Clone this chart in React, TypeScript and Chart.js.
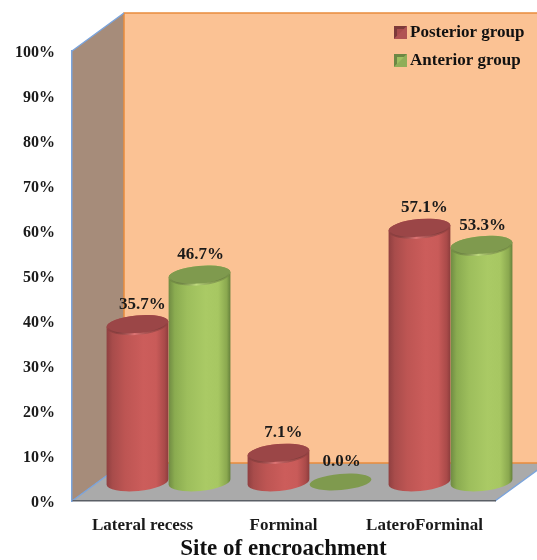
import { useEffect, useRef } from "react";
import { Chart, BarController, BarElement, CategoryScale, LinearScale, Legend, Title } from "chart.js";

const categories = ["Lateral recess", "Forminal", "LateroForminal"];
const posteriorGroup = [35.7, 7.1, 57.1];
const anteriorGroup = [46.7, 0.0, 53.3];
const valueTicks = [0, 10, 20, 30, 40, 50, 60, 70, 80, 90, 100];
const axisTitle = "Site of encroachment";

const SERIF = '"Liberation Serif", serif';
const DEPTH_X = 52;
const DEPTH_Y = 38;
const TILT = -0.09;
const CAP_RY = 9;
const LABEL_SHIFT_X = [4, 0];

const RED = "#c55a58";
const GREEN = "#a5c661";

const SHADES: Record<string, any> = {
  [RED]: {
    stops: ["#8f3f40", "#a84c4b", "#bd5553", "#cc5d5b", "#c95b59", "#a94a49", "#8b3c3c"],
    cap: "#9b4647",
    rim: "rgba(226,120,120,0.9)",
  },
  [GREEN]: {
    stops: ["#6f8a42", "#8aab50", "#9dbe5c", "#aaca65", "#a7c762", "#8aa84f", "#64803a"],
    cap: "#7f9a4e",
    rim: "rgba(195,222,130,0.9)",
  },
};

// Bar element that renders as an upright cylinder standing mid-way across the floor.
class CylinderElement extends BarElement {
  static id = "cylinder";

  draw(ctx: CanvasRenderingContext2D) {
    const { x, y, base, width } = (this as any).getProps(["x", "y", "base", "width"]);
    const shade = SHADES[(this as any).options.backgroundColor];
    const cx = x + DEPTH_X / 2;
    const bottom = base - DEPTH_Y / 2;
    const standing = base - y > 1;
    const top = standing ? y - DEPTH_Y / 2 + 3 : bottom;
    const rx = width / 2;

    ctx.save();
    if (standing) {
      const body = ctx.createLinearGradient(cx - rx, 0, cx + rx, 0);
      const offsets = [0, 0.1, 0.3, 0.6, 0.8, 0.94, 1];
      offsets.forEach((o, i) => body.addColorStop(o, shade.stops[i]));
      ctx.fillStyle = body;
      ctx.beginPath();
      ctx.ellipse(cx, bottom, rx, CAP_RY, TILT, Math.PI, 0, true);
      ctx.ellipse(cx, top, rx, CAP_RY, TILT, 0, Math.PI, true);
      ctx.closePath();
      ctx.fill();
    }

    ctx.fillStyle = shade.cap;
    ctx.beginPath();
    ctx.ellipse(cx, top, rx, standing ? CAP_RY : CAP_RY - 1, TILT, 0, Math.PI * 2);
    ctx.fill();

    if (standing) {
      const rim = ctx.createLinearGradient(cx - rx, 0, cx + rx, 0);
      rim.addColorStop(0, "rgba(0,0,0,0)");
      rim.addColorStop(0.45, shade.rim);
      rim.addColorStop(1, "rgba(0,0,0,0)");
      ctx.strokeStyle = rim;
      ctx.lineWidth = 2;
      ctx.beginPath();
      ctx.ellipse(cx, top + 0.5, rx - 1, CAP_RY, TILT, 0.1, Math.PI - 0.1);
      ctx.stroke();
    }
    ctx.restore();
  }
}

class CylinderController extends BarController {
  static id = "cylinder";
  static defaults = { ...BarController.defaults, dataElementType: "cylinder" };
  static overrides = BarController.overrides;
}

Chart.register(CylinderController, CylinderElement, CategoryScale, LinearScale, Legend, Title);

function bevelSwatch(light: string, mid: string, dark: string) {
  const c = document.createElement("canvas");
  c.width = 13;
  c.height = 13;
  const g = c.getContext("2d")!;
  g.fillStyle = mid;
  g.fillRect(0, 0, 13, 13);
  g.fillStyle = dark;
  g.beginPath();
  g.moveTo(0, 0);
  g.lineTo(13, 0);
  g.lineTo(6.5, 6.5);
  g.lineTo(0, 13);
  g.closePath();
  g.fill();
  g.fillStyle = light;
  g.fillRect(3, 3, 7, 7);
  g.fillStyle = mid;
  g.beginPath();
  g.moveTo(13, 0);
  g.lineTo(13, 13);
  g.lineTo(0, 13);
  g.closePath();
  g.fill();
  return c;
}

// Side wall, back wall and floor, placed from the value and category scales.
const roomPlugin = {
  id: "room",
  beforeDraw(chart: any) {
    const { ctx, scales } = chart;
    const xs = scales.x;
    const ys = scales.y;
    const left = xs.left;
    const right = xs.right;
    const top = ys.getPixelForValue(100);
    const floor = ys.getPixelForValue(0);
    const backL = left + DEPTH_X;
    const backR = right + DEPTH_X;
    const backTop = top - DEPTH_Y;
    const backFloor = floor - DEPTH_Y;

    ctx.save();
    ctx.fillStyle = "#fbc294";
    ctx.fillRect(backL, backTop, backR - backL, backFloor - backTop);

    ctx.fillStyle = "#a68c7a";
    ctx.beginPath();
    ctx.moveTo(left, top);
    ctx.lineTo(backL, backTop);
    ctx.lineTo(backL, backFloor);
    ctx.lineTo(left, floor);
    ctx.closePath();
    ctx.fill();

    ctx.fillStyle = "#aaaaaa";
    ctx.beginPath();
    ctx.moveTo(left, floor);
    ctx.lineTo(backL, backFloor);
    ctx.lineTo(backR, backFloor);
    ctx.lineTo(right, floor);
    ctx.closePath();
    ctx.fill();

    ctx.lineWidth = 1.5;
    ctx.strokeStyle = "#e98c3c";
    ctx.beginPath();
    ctx.moveTo(backL, backFloor);
    ctx.lineTo(backL, backTop);
    ctx.lineTo(backR, backTop);
    ctx.moveTo(backL, backFloor);
    ctx.lineTo(backR, backFloor);
    ctx.stroke();

    ctx.strokeStyle = "#7ba4dc";
    ctx.beginPath();
    ctx.moveTo(left, top);
    ctx.lineTo(backL, backTop);
    ctx.moveTo(left, floor);
    ctx.lineTo(backL, backFloor);
    ctx.moveTo(right, floor);
    ctx.lineTo(backR, backFloor);
    ctx.stroke();
    ctx.restore();
  },
  afterLayout(chart: any) {
    // The legend sits high in the back wall, above the 100% level.
    const legend = chart.legend;
    const w = legend.right - legend.left;
    const h = legend.bottom - legend.top;
    legend.left = 388.5;
    legend.right = 388.5 + w;
    legend.top = 13;
    legend.bottom = 13 + h;
  },
};

// Percentage text above each cylinder cap.
const valueLabelPlugin = {
  id: "valueLabels",
  afterDatasetsDraw(chart: any) {
    const { ctx } = chart;
    ctx.save();
    ctx.font = `bold 17px ${SERIF}`;
    ctx.fillStyle = "#1a1a1a";
    ctx.textAlign = "center";
    ctx.textBaseline = "middle";
    chart.data.datasets.forEach((ds: any, di: number) => {
      chart.getDatasetMeta(di).data.forEach((bar: any, i: number) => {
        const text = `${ds.data[i].toFixed(1)}%`;
        const lift = ds.data[i] > 0 ? 17 : 20;
        ctx.fillText(text, bar.x + DEPTH_X / 2 + 1 + LABEL_SHIFT_X[di], bar.y - DEPTH_Y / 2 - lift);
      });
    });
    ctx.restore();
  },
};

export default function App() {
  const ref = useRef<HTMLCanvasElement>(null);

  useEffect(() => {
    const swatches = [
      bevelSwatch("#a84c4c", "#b05353", "#7d3a3a"),
      bevelSwatch("#9fc060", "#8fae58", "#6c8844"),
    ];
    const chart = new Chart(ref.current!, {
      type: "cylinder" as any,
      data: {
        labels: categories,
        datasets: [
          { label: "Posterior group", data: posteriorGroup, backgroundColor: RED, clip: false },
          { label: "Anterior group", data: anteriorGroup, backgroundColor: GREEN, clip: false },
        ],
      },
      plugins: [roomPlugin, valueLabelPlugin],
      options: {
        responsive: false,
        animation: false,
        layout: { padding: { top: 51, right: 42, left: 0, bottom: 0 } },
        datasets: { cylinder: { categoryPercentage: 0.88, barPercentage: 1 } } as any,
        plugins: {
          title: { display: false },
          tooltip: { enabled: false },
          legend: {
            position: "chartArea" as any,
            align: "start",
            labels: {
              usePointStyle: true,
              pointStyleWidth: 2,
              padding: 11,
              color: "#111111",
              font: { family: SERIF, size: 17, weight: "bold" },
              generateLabels: (c: any) =>
                c.data.datasets.map((ds: any, i: number) => ({
                  text: ds.label,
                  pointStyle: swatches[i],
                  datasetIndex: i,
                  fontColor: "#111111",
                })),
            },
          },
        },
        scales: {
          x: {
            grid: { display: false, drawTicks: false },
            border: { display: true, color: "#5a5f66", width: 1.5 },
            ticks: { color: "#1a1a1a", padding: 14, font: { family: SERIF, size: 17, weight: "bold" } },
            title: {
              display: true,
              text: axisTitle,
              color: "#111111",
              padding: { top: 2, bottom: -3 },
              font: { family: SERIF, size: 23, weight: "bold" },
            },
            afterFit: (s: any) => {
              s.height = 59;
            },
          },
          y: {
            min: 0,
            max: 100,
            afterBuildTicks: (s: any) => {
              s.ticks = valueTicks.map((value) => ({ value }));
            },
            grid: { display: false, drawTicks: false },
            border: { display: true, color: "#7ba4dc", width: 1.5 },
            ticks: {
              color: "#1a1a1a",
              padding: 17,
              labelOffset: 1.5,
              font: { family: SERIF, size: 16, weight: "bold" },
              callback: (v: any) => `${v}%`,
            },
            afterFit: (s: any) => {
              s.width = 72;
            },
          },
        },
      } as any,
    });
    return () => chart.destroy();
  }, []);

  return (
    <div style={{ position: "absolute", left: 0, top: 0 }}>
      <canvas ref={ref} width={537} height={560} style={{ display: "block" }} />
    </div>
  );
}
